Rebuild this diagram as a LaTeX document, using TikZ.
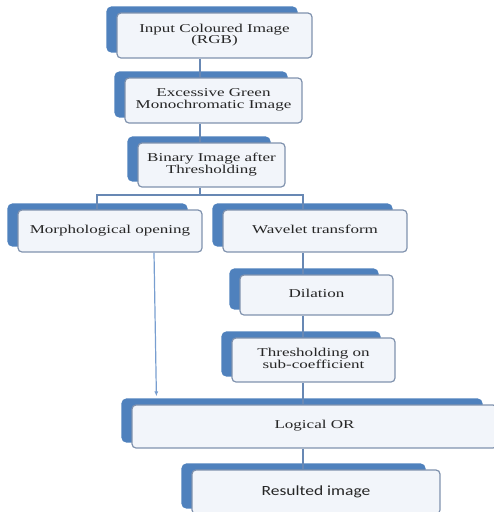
\documentclass[tikz,border=0pt]{standalone}
\usepackage{fontspec}
\setmainfont{Liberation Serif}
\newfontfamily\calibrifont{Carlito}
\usetikzlibrary{backgrounds,arrows.meta}
\definecolor{tabblue}{RGB}{79,129,189}
\definecolor{framegray}{RGB}{128,146,174}
\definecolor{paleblue}{RGB}{242,245,250}
\definecolor{linkblue}{RGB}{104,136,180}
\definecolor{arrowblue}{RGB}{120,158,208}
\definecolor{inkgray}{RGB}{38,38,38}

\newcommand{\widetext}[1]{\scalebox{1.42}[1]{\begin{tabular}{@{}c@{}}#1\end{tabular}}}
\newcommand{\backtab}[1]{%
  \begin{scope}[on background layer]
    \fill[tabblue,rounded corners=5pt] ([xshift=-10pt,yshift=6pt]#1.north west) rectangle ([xshift=-15pt,yshift=6pt]#1.south east);
  \end{scope}}

\tikzset{
  stepbox/.style={draw=framegray, line width=1.2pt, fill=paleblue, rounded corners=4pt,
    text=inkgray, inner sep=0pt, font=\fontsize{12}{11.5}\selectfont},
  link/.style={linkblue, line width=1.8pt},
  arrowlink/.style={arrowblue, line width=1.2pt, -{Latex[length=5pt,width=4pt]}},
}

\begin{document}
\begin{tikzpicture}[x=1pt,y=-1pt]
    \useasboundingbox (0,0) rectangle (494,512);
    \clip (0,0) rectangle (494,512);

    % main chain
    \node[stepbox, minimum width=195pt, minimum height=45pt] (input) at (214.5,35.5) {\widetext{Input Coloured Image\\(RGB)}};
    \backtab{input}
    \node[stepbox, minimum width=177pt, minimum height=45pt] (green) at (213.5,100.5) {\widetext{Excessive Green\\Monochromatic Image}};
    \backtab{green}
    \node[stepbox, minimum width=147pt, minimum height=44pt] (binary) at (211.5,165) {\widetext{Binary Image after\\Thresholding}};
    \backtab{binary}

    % two branches
    \node[stepbox, minimum width=184pt, minimum height=42pt] (morph) at (110,231) {\widetext{Morphological opening}};
    \backtab{morph}
    \node[stepbox, minimum width=184pt, minimum height=42pt] (wavelet) at (315,231) {\widetext{Wavelet transform}};
    \backtab{wavelet}
    \node[stepbox, minimum width=153pt, minimum height=40pt] (dilation) at (316.5,295) {\widetext{Dilation}};
    \backtab{dilation}
    \node[stepbox, minimum width=163pt, minimum height=44pt] (thresh) at (313.5,360) {\widetext{Thresholding on\\sub-coefficient}};
    \backtab{thresh}

    % merge
    \node[stepbox, minimum width=365pt, minimum height=43pt] (logicor) at (314.5,426.5) {\widetext{Logical OR}};
    \backtab{logicor}
    \node[stepbox, minimum width=248pt, minimum height=44pt, font=\calibrifont\fontsize{14}{14}\selectfont] (result) at (316,492) {\scalebox{1.25}[1]{Resulted image}};
    \backtab{result}

    \coordinate (leftaxis) at (97,0);
    \coordinate (topaxis) at (200,0);
    \coordinate (rightaxis) at (303,0);
    \coordinate (fork) at (0,195);

    \draw[link] (input.south -| topaxis) -- (green.north -| topaxis);
    \draw[link] (green.south -| topaxis) -- (binary.north -| topaxis);
    \draw[link] (binary.south -| topaxis) -- (fork -| topaxis);
    \draw[link] (morph.north -| leftaxis) |- (fork -| topaxis) -| (wavelet.north -| rightaxis);
    \draw[link] (wavelet.south -| rightaxis) -- (dilation.north -| rightaxis);
    \draw[link] (dilation.south -| rightaxis) -- (thresh.north -| rightaxis);
    \draw[link] (thresh.south -| rightaxis) -- (logicor.north -| rightaxis);
    \draw[link] (logicor.south -| rightaxis) -- (result.north -| rightaxis);
    \draw[arrowlink] ([xshift=44pt]morph.south) -- ([xshift=25pt,yshift=8pt]logicor.north west);
\end{tikzpicture}
\end{document}
